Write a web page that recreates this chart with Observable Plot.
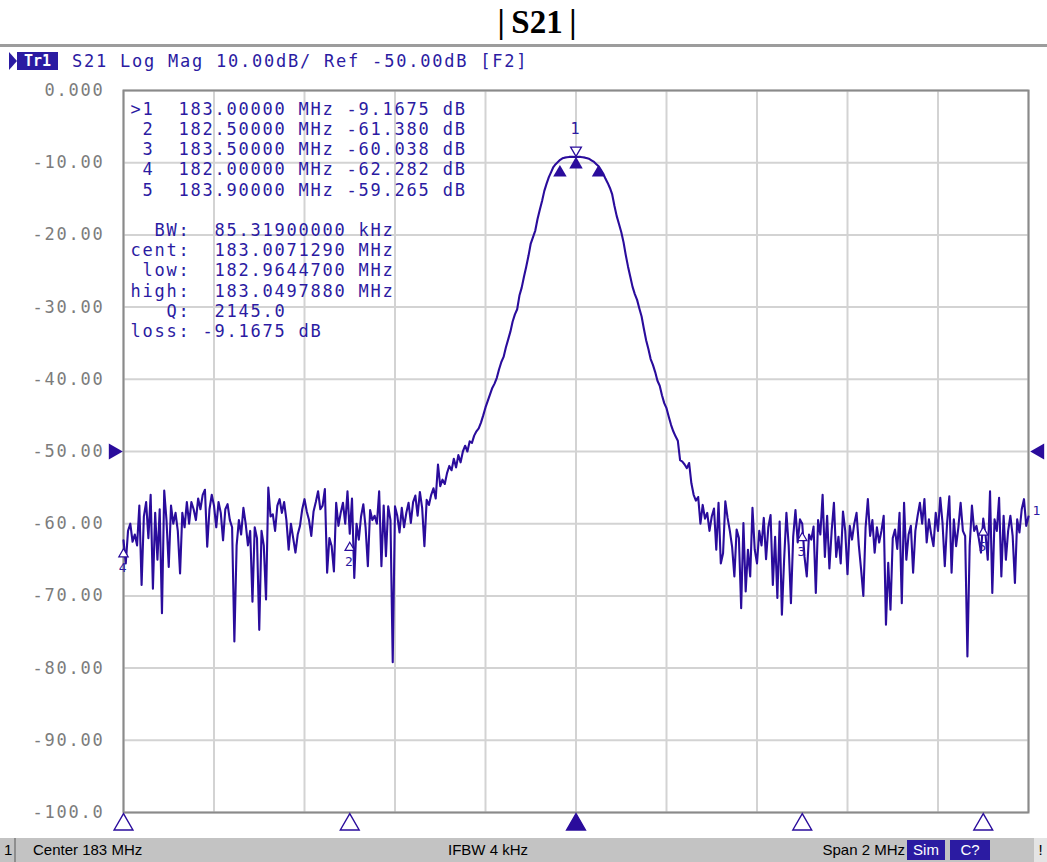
<!DOCTYPE html>
<html><head><meta charset="utf-8">
<script src="https://cdn.jsdelivr.net/npm/d3@7"></script>
<script src="https://cdn.jsdelivr.net/npm/@observablehq/plot@0.6"></script>
<style>
html,body{margin:0;padding:0;background:#fff;overflow:hidden}
#page{position:relative;width:1047px;height:862px;background:#fff}
#title{position:absolute;left:537px;top:1px;transform:translateX(-50%);font-family:"Liberation Serif","Times New Roman",serif;font-weight:bold;font-size:33px;line-height:42px;color:#000;white-space:pre;z-index:2}
#rule{position:absolute;left:0;top:44px;width:1047px;height:3px;background:#9c9c9c;z-index:2}
.mono{font-family:"DejaVu Sans Mono",monospace;font-size:17px;letter-spacing:1.77px;color:#2b1ba2}
#hdr{position:absolute;left:72px;top:50px;line-height:22px;white-space:pre;z-index:2}
#play{position:absolute;left:9px;top:52px;width:0;height:0;border-top:9px solid transparent;border-bottom:9px solid transparent;border-left:8px solid #2b1ba2;z-index:2}
#tr{position:absolute;left:17px;top:52px;width:41px;height:18px;background:#2b1ba2;color:#fff;font-family:"DejaVu Sans Mono",monospace;font-weight:bold;font-size:15px;line-height:18px;text-align:center;z-index:2}
#chart{position:absolute;left:0;top:47px;z-index:1}
#status{position:absolute;left:0;top:838px;width:1047px;height:24px;background:#c3c3c3;font-family:"Liberation Sans",Arial,sans-serif;font-size:15px;line-height:24px;color:#000;z-index:2}
#status span{position:absolute;top:0;white-space:pre}
#status .box{top:2px;height:20px;line-height:20px;background:#2b1ba2;color:#fff;text-align:center}
#sep{position:absolute;left:14px;top:0;width:2px;height:24px;background:#8e8e8e}
</style></head>
<body>
<div id="page">
  <div id="title"></div>
  <div id="rule"></div>
  <div id="play"></div>
  <div id="tr">Tr1</div>
  <div id="hdr" class="mono"></div>
  <div id="chart"></div>
  <div id="status">
    <span style="left:4px">1</span><div id="sep"></div>
    <span id="st-center" style="left:33px"></span>
    <span id="st-ifbw" style="left:448px"></span>
    <span id="st-span" style="right:142px"></span>
    <span class="box" style="left:907px;width:38px">Sim</span>
    <span class="box" style="left:950px;width:40px">C?</span>
    <span style="left:1034px;width:13px;background:#e4e4e4;text-align:center">!</span>
  </div>
</div>
<script>
// ---------- data ----------
const titleText = "|\u2009S21\u2009|";
const headerText = "S21 Log Mag 10.00dB/ Ref -50.00dB [F2]";
const statusCenter = "Center 183 MHz";
const statusIfbw = "IFBW 4 kHz";
const statusSpan = "Span 2 MHz";

const sweepStartMHz = 182.0;
const sweepStepMHz = 0.005;   // 401 points over 2 MHz span
const s21dB = [
  -62.3,-65.5,-61.0,-60.0,-62.5,-61.5,-63.0,-57.5,-68.5,-59.0,
  -57.0,-62.0,-56.0,-69.0,-58.5,-65.0,-58.0,-72.4,-55.4,-59.5,
  -66.0,-57.5,-60.0,-58.5,-61.0,-66.9,-58.5,-60.5,-57.0,-60.0,
  -57.0,-58.0,-59.5,-56.5,-58.0,-56.0,-55.3,-63.2,-58.0,-56.0,
  -57.5,-60.5,-57.0,-58.5,-62.3,-58.0,-57.3,-59.5,-60.5,-76.3,
  -63.0,-59.5,-61.5,-57.8,-60.0,-63.0,-61.0,-70.8,-60.5,-62.0,
  -74.7,-61.0,-63.0,-70.5,-55.0,-59.0,-58.7,-61.0,-57.5,-56.6,
  -58.5,-57.0,-59.5,-63.6,-60.0,-62.0,-64.0,-61.5,-60.3,-58.0,
  -56.6,-58.3,-59.5,-61.7,-58.3,-57.0,-55.5,-58.0,-57.5,-55.2,
  -66.8,-62.0,-63.1,-66.6,-57.1,-60.3,-58.5,-57.1,-60.0,-55.5,
  -61.4,-56.5,-67.5,-60.0,-62.2,-59.0,-57.3,-60.5,-65.9,-58.1,
  -59.5,-58.9,-60.0,-55.5,-65.9,-57.5,-64.5,-57.6,-59.5,-79.2,
  -57.6,-58.9,-61.2,-57.8,-60.5,-58.5,-57.1,-59.9,-57.0,-56.1,
  -58.9,-55.6,-57.8,-63.1,-56.7,-57.4,-56.0,-55.1,-56.5,-51.8,
  -54.8,-53.9,-54.5,-53.0,-52.0,-52.6,-51.0,-52.2,-50.5,-51.5,
  -50.0,-49.2,-50.0,-48.6,-48.8,-47.8,-47.2,-46.8,-46.0,-45.0,
  -43.9,-43.0,-42.1,-41.2,-40.6,-39.8,-38.6,-37.6,-36.9,-35.6,
  -34.5,-33.4,-32.0,-31.0,-30.3,-28.4,-27.3,-25.8,-24.4,-22.9,
  -21.2,-20.3,-19.4,-17.8,-16.5,-15.3,-13.9,-12.9,-12.0,-11.3,
  -10.6,-10.2,-9.9,-9.6,-9.4,-9.3,-9.25,-9.2,-9.2,-9.2,
  -9.17,-9.2,-9.2,-9.25,-9.3,-9.4,-9.5,-9.7,-9.9,-10.2,
  -10.5,-11.0,-11.5,-12.2,-12.8,-13.5,-14.4,-16.0,-17.4,-18.5,
  -19.6,-21.0,-22.8,-24.4,-25.8,-27.2,-28.2,-29.0,-30.2,-31.3,
  -33.0,-34.6,-35.8,-37.2,-38.0,-39.0,-40.2,-40.9,-42.2,-43.3,
  -44.0,-45.2,-46.3,-47.2,-47.9,-48.5,-51.2,-51.4,-51.8,-52.3,
  -51.6,-54.4,-56.0,-56.8,-56.3,-60.0,-57.4,-59.3,-58.5,-61.0,
  -59.0,-57.9,-63.6,-57.1,-65.5,-64.1,-56.9,-59.2,-61.0,-63.2,
  -67.3,-60.8,-62.0,-71.7,-59.9,-69.4,-63.6,-67.3,-57.8,-63.6,
  -65.5,-61.0,-63.0,-59.2,-64.9,-60.5,-58.8,-68.5,-61.8,-70.3,
  -59.7,-72.6,-64.9,-58.5,-63.0,-71.0,-61.8,-58.1,-62.6,-59.4,
  -60.0,-64.6,-67.3,-61.5,-62.2,-60.4,-69.6,-59.5,-61.5,-56.0,
  -64.6,-58.9,-66.2,-61.0,-57.1,-64.6,-61.8,-65.5,-58.3,-61.0,
  -67.0,-60.3,-62.2,-60.0,-58.5,-63.0,-66.3,-70.0,-60.5,-56.6,
  -61.7,-59.5,-64.0,-60.5,-62.6,-61.0,-58.9,-74.0,-65.4,-71.9,
  -62.0,-60.8,-63.5,-58.5,-71.0,-57.1,-65.0,-61.5,-60.3,-66.8,
  -61.0,-58.9,-57.1,-60.0,-56.6,-62.6,-59.4,-61.5,-63.1,-58.5,
  -61.0,-56.4,-59.9,-65.9,-60.0,-56.2,-66.8,-59.4,-63.1,-60.5,
  -57.1,-61.0,-61.7,-78.4,-63.1,-57.5,-61.0,-60.3,-62.0,-64.0,
  -59.3,-61.5,-65.0,-55.5,-69.6,-59.4,-61.0,-56.4,-67.3,-58.9,
  -65.0,-61.0,-58.9,-61.7,-68.2,-59.4,-61.2,-58.0,-56.6,-60.3,
  -59.0
];

const xGridMHz = [182.0,182.2,182.4,182.6,182.8,183.0,183.2,183.4,183.6,183.8,184.0];
const yTicksDb = [0,-10,-20,-30,-40,-50,-60,-70,-80,-90,-100];
const yTickLabels = ["0.000","-10.00","-20.00","-30.00","-40.00","-50.00","-60.00","-70.00","-80.00","-90.00","-100.0"];
const refLevelDb = -50;

const markerIds = [1,2,3,4,5];
const markerFreqMHz = [183.0, 182.5, 183.5, 182.0, 183.9];
const markerDb = [-9.1675, -61.380, -60.038, -62.282, -59.265];
const activeMarker = 1;

const bwStatLabels = ["BW:","cent:","low:","high:","Q:","loss:"];
const bwStatValues = ["85.31900000 kHz","183.0071290 MHz","182.9644700 MHz","183.0497880 MHz","2145.0","-9.1675 dB"];
// bandwidth search markers (low, peak, high) as drawn on the trace
const bwMarkFreqMHz = [182.96447, 183.0, 183.04979];
const bwMarkDb = [-10.3, -9.1675, -10.3];

// ---------- page text ----------
document.getElementById("title").textContent = titleText;
document.getElementById("hdr").textContent = headerText;
document.getElementById("st-center").textContent = statusCenter;
document.getElementById("st-ifbw").textContent = statusIfbw;
document.getElementById("st-span").textContent = statusSpan;

// ---------- chart ----------
const textColor = "#2b1ba2";
const traceColor = "#2a0c9c";
const gridColor = "#d3d3d3";

const sweep = s21dB.map((db, i) => ({freq: sweepStartMHz + i * sweepStepMHz, db}));
const markers = markerIds.map((id, i) => ({id, freq: markerFreqMHz[i], db: markerDb[i], active: id === activeMarker}));
const activeRows = markers.filter(m => m.active);
const otherRows = markers.filter(m => !m.active);
const bwMarks = bwMarkFreqMHz.map((f, i) => ({freq: f, db: bwMarkDb[i]}));

const tableText = [
  ...markers.map(m => `${m.active ? ">" : " "}${m.id}  ${m.freq.toFixed(5)} MHz ${m.db.toPrecision(5)} dB`),
  "",
  ...bwStatLabels.map((l, i) => l.padStart(5) + (bwStatValues[i].startsWith("-") ? " " : "  ") + bwStatValues[i])
].join("\n");

const chart = Plot.plot({
  width: 1047, height: 791,
  marginTop: 43, marginBottom: 26, marginLeft: 123, marginRight: 19,
  x: {domain: [182, 184], axis: null},
  y: {domain: [-100, 0], axis: null},
  style: {fontFamily: "'DejaVu Sans Mono', monospace", fontSize: "17px", letterSpacing: "1.77px", background: "transparent", overflow: "visible"},
  marks: [
    Plot.ruleX(xGridMHz, {stroke: gridColor, strokeWidth: 2}),
    Plot.ruleY(yTicksDb, {stroke: gridColor, strokeWidth: 2}),
    Plot.frame({stroke: "#8a8a8a", strokeWidth: 2}),
    Plot.axisY({ticks: yTicksDb, tickFormat: d => yTickLabels[yTicksDb.indexOf(d)], tickSize: 0, tickPadding: 19, fill: "#7c7c7c", label: null, fontSize: 17}),
    Plot.text([tableText], {frameAnchor: "top-left", text: d => d, textAnchor: "start", lineAnchor: "top", lineHeight: 1.188, dx: 7, dy: 10, fill: textColor, fontSize: 17}),
    Plot.line(sweep, {x: "freq", y: "db", stroke: traceColor, strokeWidth: 2.1}),
    // bandwidth search markers
    Plot.dot(bwMarks, {x: "freq", y: "db", symbol: "triangle", r: 5, fill: traceColor, dy: 7.8}),
    // active marker indicator
    Plot.dot(activeRows, {x: "freq", y: "db", symbol: "triangle", rotate: 180, r: 4, fill: "white", stroke: traceColor, strokeWidth: 1.3, dy: -6.5}),
    Plot.text(activeRows, {x: "freq", y: "db", text: d => String(d.id), dy: -28, fill: textColor, fontSize: 15}),
    // other markers on trace
    Plot.dot(otherRows, {x: "freq", y: "db", symbol: "triangle", r: 3.5, fill: "white", stroke: traceColor, strokeWidth: 1.2, dy: 14}),
    Plot.text(otherRows, {x: "freq", y: "db", text: d => String(d.id), dy: 28, fill: textColor, fontSize: 13}),
    // marker position triangles below the graticule
    Plot.dot(otherRows, {x: "freq", frameAnchor: "bottom", symbol: "triangle", r: 7, fill: "white", stroke: traceColor, strokeWidth: 1.4, dy: 12}),
    Plot.dot(activeRows, {x: "freq", frameAnchor: "bottom", symbol: "triangle", r: 7, fill: traceColor, stroke: traceColor, strokeWidth: 1.4, dy: 12}),
    // reference level arrows
    Plot.dot([refLevelDb], {y: d => d, frameAnchor: "left", symbol: "triangle", rotate: 90, r: 6, fill: traceColor, dx: -10}),
    Plot.dot([refLevelDb], {y: d => d, frameAnchor: "right", symbol: "triangle", rotate: -90, r: 6, fill: traceColor, dx: 11}),
    // trace number at right edge
    Plot.text([s21dB[s21dB.length - 1]], {y: d => d, frameAnchor: "right", text: () => "1", textAnchor: "start", dx: 4, dy: -6, fill: textColor, fontSize: 13})
  ]
});
document.getElementById("chart").appendChild(chart);
</script>
</body></html>
